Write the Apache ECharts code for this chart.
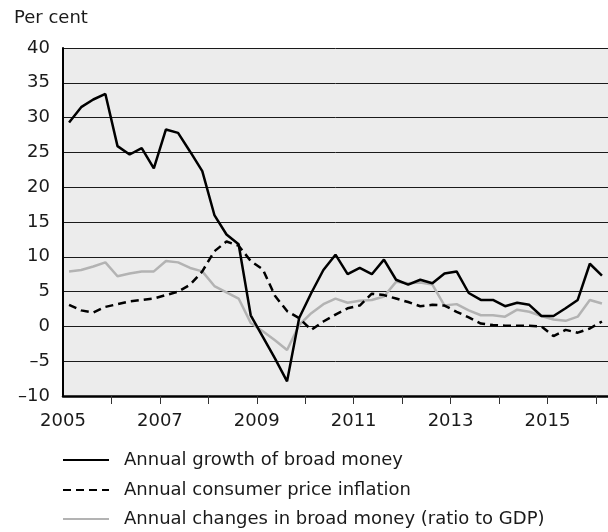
<!DOCTYPE html>
<html>
<head>
<meta charset="utf-8">
<title>Broad money and inflation</title>
<script src="https://cdn.jsdelivr.net/npm/echarts@6/dist/echarts.min.js"></script>
<style>
  html, body { margin: 0; padding: 0; background: #ffffff; }
  #chart { width: 608px; height: 532px; }
</style>
</head>
<body>
<div id="chart"></div>
<script>
// Quarterly observations, 2005 Q1 – 2016 Q1
const startYear = 2005;
const broadMoneyGrowth = [
  29.3, 31.5, 32.6, 33.4,
  25.9, 24.7, 25.6, 22.7,
  28.3, 27.8, 25.1, 22.3,
  16.0, 13.2, 11.8, 1.6,
  -1.5, -4.6, -7.9, 1.2,
  4.8, 8.1, 10.3, 7.5,
  8.4, 7.5, 9.6, 6.7,
  6.0, 6.7, 6.2, 7.6,
  7.9, 4.8, 3.8, 3.8,
  2.9, 3.4, 3.1, 1.5,
  1.5, 2.6, 3.8, 9.0,
  7.3
];
const consumerInflation = [
  3.1, 2.3, 2.0, 2.8,
  3.2, 3.6, 3.8, 4.0,
  4.5, 5.0, 6.0, 7.9,
  10.8, 12.2, 11.6, 9.4,
  8.2, 4.4, 2.2, 1.2,
  -0.5, 0.7, 1.7, 2.6,
  3.0, 4.7, 4.5, 4.0,
  3.5, 2.9, 3.1, 3.0,
  2.1, 1.3, 0.4, 0.2,
  0.1, 0.1, 0.1, 0.0,
  -1.4, -0.5, -0.9, -0.3,
  0.7
];
const broadMoneyToGdp = [
  7.9, 8.1, 8.6, 9.2,
  7.2, 7.6, 7.9, 7.9,
  9.4, 9.2, 8.4, 7.9,
  5.8, 4.9, 4.0, 0.5,
  -0.7, -2.0, -3.4, 0.2,
  1.9, 3.2, 4.0, 3.4,
  3.7, 3.8, 4.3, 6.4,
  6.2, 6.3, 6.0, 3.0,
  3.2, 2.3, 1.6, 1.6,
  1.4, 2.4, 2.1, 1.5,
  1.0, 0.8, 1.4, 3.8,
  3.3
];
const seriesNames = [
  'Annual growth of broad money',
  'Annual consumer price inflation',
  'Annual changes in broad money (ratio to GDP)'
];
const yearTicks = [2006, 2007, 2008, 2009, 2010, 2011, 2012, 2013, 2014, 2015, 2016];
const yearLabels = [2005, 2007, 2009, 2011, 2013, 2015];

// Each quarter is placed at its mid-point on the time axis
function toPoints(values) {
  return values.map((v, i) => [startYear + (i + 0.5) / 4, v]);
}

const FONT = '"DejaVu Sans", "Noto Sans", sans-serif';
const TEXT = '#1a1a1a';
const FS = 18;
const LEGEND_FS = 18;

// One legend row per series, stacked under the plot
const legendRowTops = [451, 481, 510];
const legends = seriesNames.map((name, i) => ({
  orient: 'vertical',
  left: 62, top: legendRowTops[i],
  padding: 0,
  itemWidth: 46, itemHeight: 14,
  itemStyle: { color: 'rgba(0,0,0,0)', borderWidth: 0 },
  textStyle: { fontFamily: FONT, fontSize: LEGEND_FS, color: TEXT, padding: [0, 0, 0, 10] },
  data: [name]
}));

const chart = echarts.init(document.getElementById('chart'), null, { renderer: 'canvas' });

chart.setOption({
  animation: false,
  backgroundColor: '#ffffff',
  textStyle: { fontFamily: FONT, color: TEXT },
  graphic: [{
    type: 'text',
    left: 14,
    top: 9,
    style: { text: 'Per cent', font: FS + 'px ' + FONT, fill: TEXT }
  }],
  grid: {
    left: 63, top: 48, right: 0, bottom: 136,
    show: true, backgroundColor: '#ececec', borderWidth: 0
  },
  legend: legends,
  xAxis: {
    type: 'value',
    min: 2005, max: 2016.25,
    axisLine: { show: true, onZero: false, lineStyle: { color: '#000', width: 2.5 } },
    axisTick: { show: true, customValues: yearTicks, length: 8, lineStyle: { color: '#333', width: 1 } },
    axisLabel: {
      customValues: yearLabels, margin: 16,
      fontFamily: FONT, fontSize: FS, color: TEXT,
      formatter: v => String(v)
    },
    splitLine: { show: false }
  },
  yAxis: {
    type: 'value',
    min: -10, max: 40, interval: 5,
    axisLine: { show: true, lineStyle: { color: '#000', width: 2 } },
    axisTick: { show: false },
    axisLabel: {
      margin: 13, fontFamily: FONT, fontSize: FS, color: TEXT,
      formatter: v => String(v).replace('-', '\u2013')
    },
    splitLine: { show: true, lineStyle: { color: '#1a1a1a', width: 1 } }
  },
  series: [
    {
      name: seriesNames[2], type: 'line', data: toPoints(broadMoneyToGdp),
      symbol: 'none', z: 2,
      lineStyle: { color: '#b3b3b3', width: 2.5 }, itemStyle: { color: '#b3b3b3' }
    },
    {
      name: seriesNames[1], type: 'line', data: toPoints(consumerInflation),
      symbol: 'none', z: 3,
      lineStyle: { color: '#000', width: 2.5, type: [8, 5] }, itemStyle: { color: '#000' }
    },
    {
      name: seriesNames[0], type: 'line', data: toPoints(broadMoneyGrowth),
      symbol: 'none', z: 4,
      lineStyle: { color: '#000', width: 2.5 }, itemStyle: { color: '#000' }
    }
  ]
});
</script>
</body>
</html>
